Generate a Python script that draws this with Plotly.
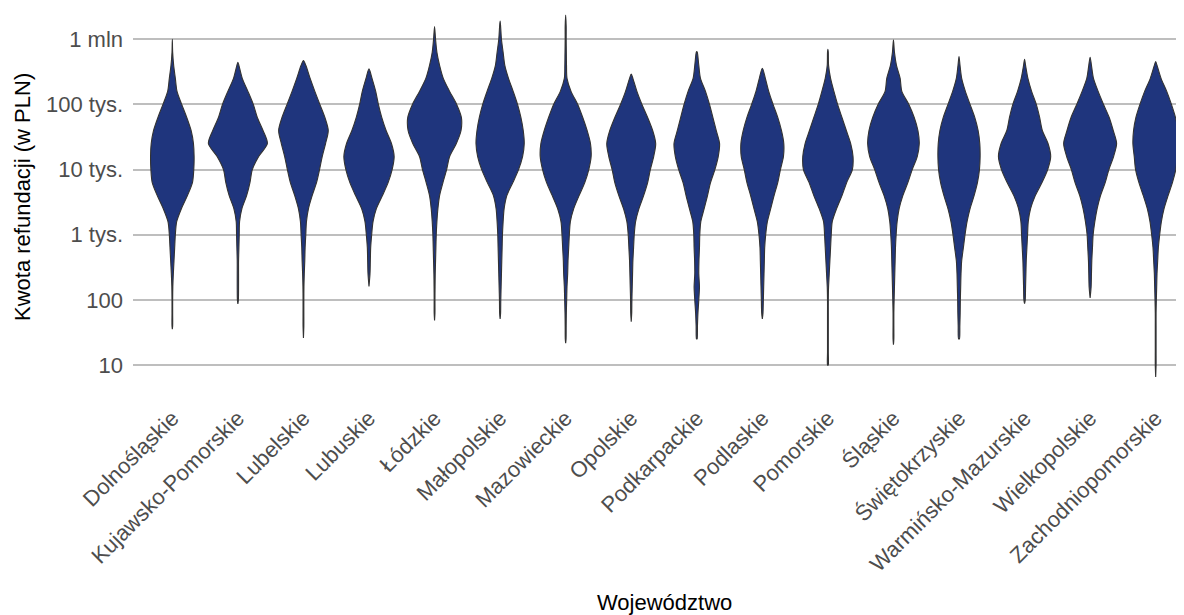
import numpy as np
import plotly.graph_objects as go

# Regions (x categories)
REGIONS = ["Dolnośląskie", "Kujawsko-Pomorskie", "Lubelskie", "Lubuskie", "Łódzkie",
           "Małopolskie", "Mazowieckie", "Opolskie", "Podkarpackie", "Podlaskie",
           "Pomorskie", "Śląskie", "Świętokrzyskie", "Warmińsko-Mazurskie",
           "Wielkopolskie", "Zachodniopomorskie"]

# log10 of refund amount (PLN) at which the density profile was read
LEVELS = [6.2, 6.0, 5.8, 5.6, 5.4, 5.2, 5.0, 4.8, 4.6, 4.4, 4.2, 4.0, 3.8, 3.6,
          3.4, 3.2, 3.0, 2.8, 2.6, 2.4, 2.2, 2.0, 1.8, 1.6, 1.4, 1.2, 1.0, 0.8]

# log10 of max / min refund per region
MAX_LOG = [6.00, 5.647, 5.673, 5.545, 6.194, 6.281, 6.373, 5.468,
           5.811, 5.555, 5.847, 5.99, 5.734, 5.693, 5.724, 5.657]
MIN_LOG = [1.552, 1.94, 1.414, 2.207, 1.685, 1.706, 1.337, 1.665,
           1.399, 1.706, 0.995, 1.312, 1.404, 1.941, 2.028, 0.816]

N = None
# relative density (violin half-width) at each LEVEL
D_DOLNOSLASKIE = [N, N, 1, 4, 9, 14, 28, 43, 56, 63, 65, 64, 60, 45, 27, 13, 9, 7, 5, 3, 1.5, 1, 1, 1, N, N, N, N]
D_KUJAWSKO = [N, N, N, 3, 13, 30, 46, 58, 75, 88, 62, 43, 36, 26, 12, 5, 4, 3, 2, 2, 2, 1.5, N, N, N, N, N, N]
D_LUBELSKIE = [N, N, N, 7, 20, 34, 49, 64, 74, 66, 56, 48, 39, 26, 15, 9, 7, 5, 4, 2.5, 1.5, 1.2, 1.2, 1.2, N, N, N, N]
D_LUBUSKIE = [N, N, N, N, 9, 20, 28, 38, 51, 67, 75, 69, 57, 40, 22, 12, 8, 5, 4, 3, N, N, N, N, N, N, N, N]
D_LODZKIE = [N, 3, 7, 15, 26, 45, 66, 80, 79, 65, 45, 36, 25, 15, 10, 7, 5, 4, 3, 2, 1.5, 1.2, 1.2, N, N, N, N, N]
D_MALOPOLSKIE = [1.5, 4, 9, 14, 25, 39, 52, 62, 69, 72, 67, 55, 38, 20, 12, 9, 7, 6, 5, 4, 3, 2, 1.5, N, N, N, N, N]
D_MAZOWIECKIE = [1.5, 1.5, 2, 2.5, 4, 16, 36, 51, 64, 74, 76, 69, 57, 40, 24, 14, 11, 9, 7, 6, 4, 3, 2, 1.5, 1.2, N, N, N]
D_OPOLSKIE = [N, N, N, N, 5, 17, 32, 49, 64, 73, 67, 57, 49, 37, 23, 13, 9, 7, 5, 4, 3, 2, 1.5, N, N, N, N, N]
D_PODKARPACKIE = [N, N, 1.5, 6, 11, 26, 38, 48, 58, 68, 64, 54, 41, 32, 22, 12, 9, 8, 6.5, 6, 8, 6, 3.5, 2, 1, N, N, N]
D_PODLASKIE = [N, N, N, N, 9, 19, 32, 46, 57, 64, 63, 54, 46, 35, 25, 15, 10, 7, 6, 5, 4, 3, 2, N, N, N, N, N]
D_POMORSKIE = [N, N, 1.2, 2, 8, 18, 29, 42, 55, 68, 75, 73, 56, 42, 26, 13, 10, 8, 6, 4, 2, 1.2, 1.2, 1.2, 1.2, 1.2, 1.2, N]
D_SLASKIE = [N, N, 3, 9, 20, 25, 46, 62, 73, 77, 71, 56, 43, 28, 17, 11, 8, 6, 5, 4, 3, 2, 1.2, 1.2, 1.2, N, N, N]
D_SWIETOKRZYSKIE = [N, N, N, 3, 8, 19, 33, 47, 57, 62, 63, 61, 55, 45, 33, 24, 18, 13, 8, 6, 5, 4, 3.5, 2.5, 1.5, N, N, N]
D_WARMINSKO = [N, N, N, 3, 10, 21, 35, 45, 53, 70, 78, 69, 52, 32, 18, 11, 9, 7, 5, 4, 3, 2, N, N, N, N, N, N]
D_WIELKOPOLSKIE = [N, N, N, 4, 10, 24, 40, 57, 69, 79, 70, 56, 45, 31, 21, 14, 9, 7, 5, 4, 3, N, N, N, N, N, N, N]
D_ZACHODNIOPOMORSKIE = [N, N, N, 4, 16, 33, 47, 59, 66, 68, 64, 60, 50, 37, 25, 17, 12, 8, 6, 4, 3, 2, 1.2, 1.2, 1.2, 1.2, 1.2, N]

DENSITIES = [D_DOLNOSLASKIE, D_KUJAWSKO, D_LUBELSKIE, D_LUBUSKIE, D_LODZKIE,
             D_MALOPOLSKIE, D_MAZOWIECKIE, D_OPOLSKIE, D_PODKARPACKIE, D_PODLASKIE,
             D_POMORSKIE, D_SLASKIE, D_SWIETOKRZYSKIE, D_WARMINSKO,
             D_WIELKOPOLSKIE, D_ZACHODNIOPOMORSKIE]

Y_TICKS = [10, 100, 1e3, 1e4, 1e5, 1e6]
Y_TICKTEXT = ["10", "100", "1 tys.", "10 tys.", "100 tys.", "1 mln"]

FILL = "#1f357d"
EDGE = "#333333"
VIOLIN_WIDTH = 0.9
FONT = "Liberation Sans, Arial, sans-serif"

dmax = max(d for dens in DENSITIES for d in dens if d is not None)

fig = go.Figure()
for i, dens in enumerate(DENSITIES):
    pts = [(MAX_LOG[i], 0.0)]
    pts += [(lv, d) for lv, d in zip(LEVELS, dens) if d is not None]
    pts += [(MIN_LOG[i], 0.0)]
    lev = np.array([p[0] for p in pts])
    hw = np.array([p[1] for p in pts]) / dmax * VIOLIN_WIDTH / 2
    xs = np.concatenate([i + hw, (i - hw)[::-1]])
    ys = np.concatenate([10 ** lev, (10 ** lev)[::-1]])
    fig.add_trace(go.Scatter(
        x=xs, y=ys, mode="lines", fill="toself", fillcolor=FILL,
        line=dict(color=EDGE, width=1.1, shape="spline", smoothing=0.8),
        hoverinfo="skip", showlegend=False))

# the page body adds an 8px offset; figure is sized to fill the rest of the window
W, H = 1176, 607
ML, MT, MB = 125, 0, 220
plot_w = W - ML
plot_h = H - MT - MB
fig.update_layout(
    width=W, height=H,
    margin=dict(l=ML, r=0, t=MT, b=MB, pad=0),
    paper_bgcolor="white", plot_bgcolor="white",
    font=dict(family=FONT, size=22, color="#4d4d4d"),
    showlegend=False,
)
fig.update_xaxes(
    range=[-0.6, 15.432], tickmode="array", tickvals=list(range(len(REGIONS))),
    ticktext=REGIONS, tickangle=-45, showgrid=False, zeroline=False,
    showline=False, ticks="", ticklabelstandoff=5,
    tickfont=dict(family=FONT, size=22, color="#4d4d4d"),
)
fig.update_yaxes(
    type="log", range=[0.54, 6.48], tickmode="array", tickvals=Y_TICKS,
    ticktext=Y_TICKTEXT, showgrid=True, gridcolor="#bebebe", gridwidth=1.6,
    zeroline=False, showline=False, ticks="", ticklabelstandoff=9,
    tickfont=dict(family=FONT, size=22, color="#4d4d4d"),
)
fig.add_annotation(
    text="Kwota refundacji (w PLN)", textangle=-90, showarrow=False,
    xref="paper", yref="paper", x=(14 - ML) / plot_w, y=(plot_h - 189) / plot_h,
    xanchor="center", yanchor="middle", font=dict(family=FONT, size=22, color="black"))
fig.add_annotation(
    text="Województwo", showarrow=False,
    xref="paper", yref="paper", x=(656 - ML) / plot_w, y=-(594 - plot_h) / plot_h,
    xanchor="center", yanchor="middle", font=dict(family=FONT, size=22, color="black"))

fig.write_html("out.html")
